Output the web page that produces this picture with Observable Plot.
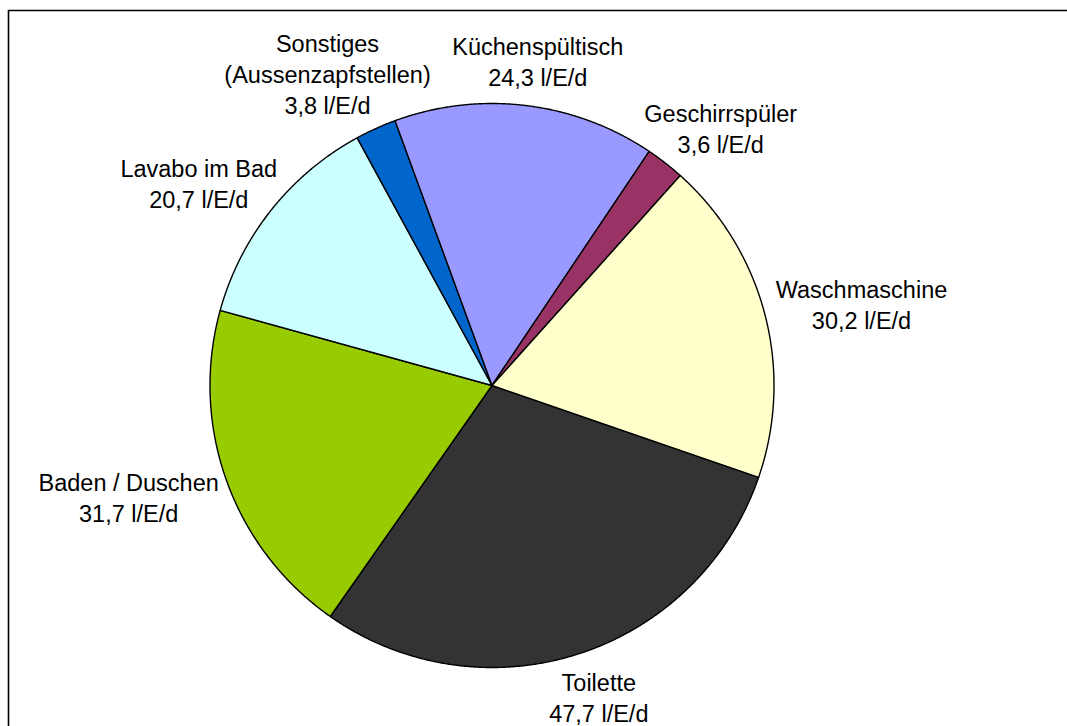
<!DOCTYPE html>
<html>
<head>
<meta charset="utf-8">
<script src="https://cdn.jsdelivr.net/npm/d3@7"></script>
<script src="https://cdn.jsdelivr.net/npm/@observablehq/plot@0.6"></script>
<style>
  html, body { margin: 0; padding: 0; background: #fff; }
  #chart svg { display: block; }
</style>
</head>
<body>
<div id="chart"></div>
<script>
// ---- data (clockwise order, as in the picture) ----
const categories = ["Toilette", "Baden / Duschen", "Lavabo im Bad", "Sonstiges (Aussenzapfstellen)", "Küchenspültisch", "Geschirrspüler", "Waschmaschine"];
const labelNames = ["Toilette", "Baden / Duschen", "Lavabo im Bad", "Sonstiges\n(Aussenzapfstellen)", "Küchenspültisch", "Geschirrspüler", "Waschmaschine"];
const values = [47.7, 31.7, 20.7, 3.8, 24.3, 3.6, 30.2];
const unit = "l/E/d";
const colors = ["#333333", "#99CC00", "#CCFFFF", "#0066CC", "#9999FF", "#993366", "#FFFFCC"];

// ---- layout ----
const W = 1067, H = 726;
const cxPx = 491.5, cyPx = 385, rPx = 282;   // pie centre and radius (pixels)
const startDeg = 109;                         // first slice start angle, clockwise from 12 o'clock
const fontSize = 23.5, lineHeight = 1.32, labelGap = 14;
const mL = 8, mT = 10;

const pie = d3.pie().sort(null).value(d => d.value)
  .startAngle(startDeg * Math.PI / 180)
  .endAngle(startDeg * Math.PI / 180 + 2 * Math.PI);
const rows = categories.map((name, i) => ({name, value: values[i], label: labelNames[i]}));
const arcs = pie(rows);

// slice outlines in unit coordinates (radius 1, y up)
const slicePts = [];
for (const a of arcs) {
  slicePts.push({name: a.data.name, x: 0, y: 0});
  const n = Math.max(2, Math.ceil((a.endAngle - a.startAngle) / (0.25 * Math.PI / 180)));
  for (let j = 0; j <= n; ++j) {
    const t = a.startAngle + (a.endAngle - a.startAngle) * j / n;
    slicePts.push({name: a.data.name, x: Math.sin(t), y: Math.cos(t)});
  }
}

// labels placed outside the pie along each slice's mid-angle
const ctx = document.createElement("canvas").getContext("2d");
ctx.font = `${fontSize}px "Liberation Sans", Arial, sans-serif`;
const fmt = v => v.toFixed(1).replace(".", ",") + " " + unit;
const labels = arcs.map(a => {
  const text = a.data.label + "\n" + fmt(a.data.value);
  const lines = text.split("\n");
  const w = d3.max(lines, l => ctx.measureText(l).width);
  const h = lines.length * fontSize * lineHeight;
  const mid = (a.startAngle + a.endAngle) / 2;
  const s = Math.sin(mid), c = Math.cos(mid);
  const R = (rPx + labelGap) / rPx;
  return {
    text,
    x: R * s + s * (w / 2) / rPx,
    y: R * c + c * (h / 2) / rPx
  };
});

const xDomain = [(mL - cxPx) / rPx, (W - cxPx) / rPx];
const yDomain = [(cyPx - H) / rPx, (cyPx - mT) / rPx];

const chart = Plot.plot({
  width: W,
  height: H,
  marginLeft: mL, marginTop: mT, marginRight: 0, marginBottom: 0,
  style: {fontFamily: '"Liberation Sans", Arial, sans-serif', background: "#fff"},
  x: {domain: xDomain, axis: null},
  y: {domain: yDomain, axis: null},
  color: {domain: categories, range: colors},
  marks: [
    Plot.ruleX([xDomain[0]], {stroke: "#000", strokeWidth: 1.6}),
    Plot.ruleY([yDomain[1]], {stroke: "#000", strokeWidth: 1.6}),
    Plot.line(slicePts, {
      x: "x", y: "y", z: "name", fill: "name",
      stroke: "#000", strokeWidth: 1.4, curve: "linear-closed",
      strokeLinejoin: "round"
    }),
    Plot.text(labels, {
      x: "x", y: "y", text: "text",
      fontSize, lineHeight, textAnchor: "middle", lineAnchor: "middle",
      fill: "#000"
    })
  ]
});
document.getElementById("chart").appendChild(chart);
</script>
</body>
</html>
